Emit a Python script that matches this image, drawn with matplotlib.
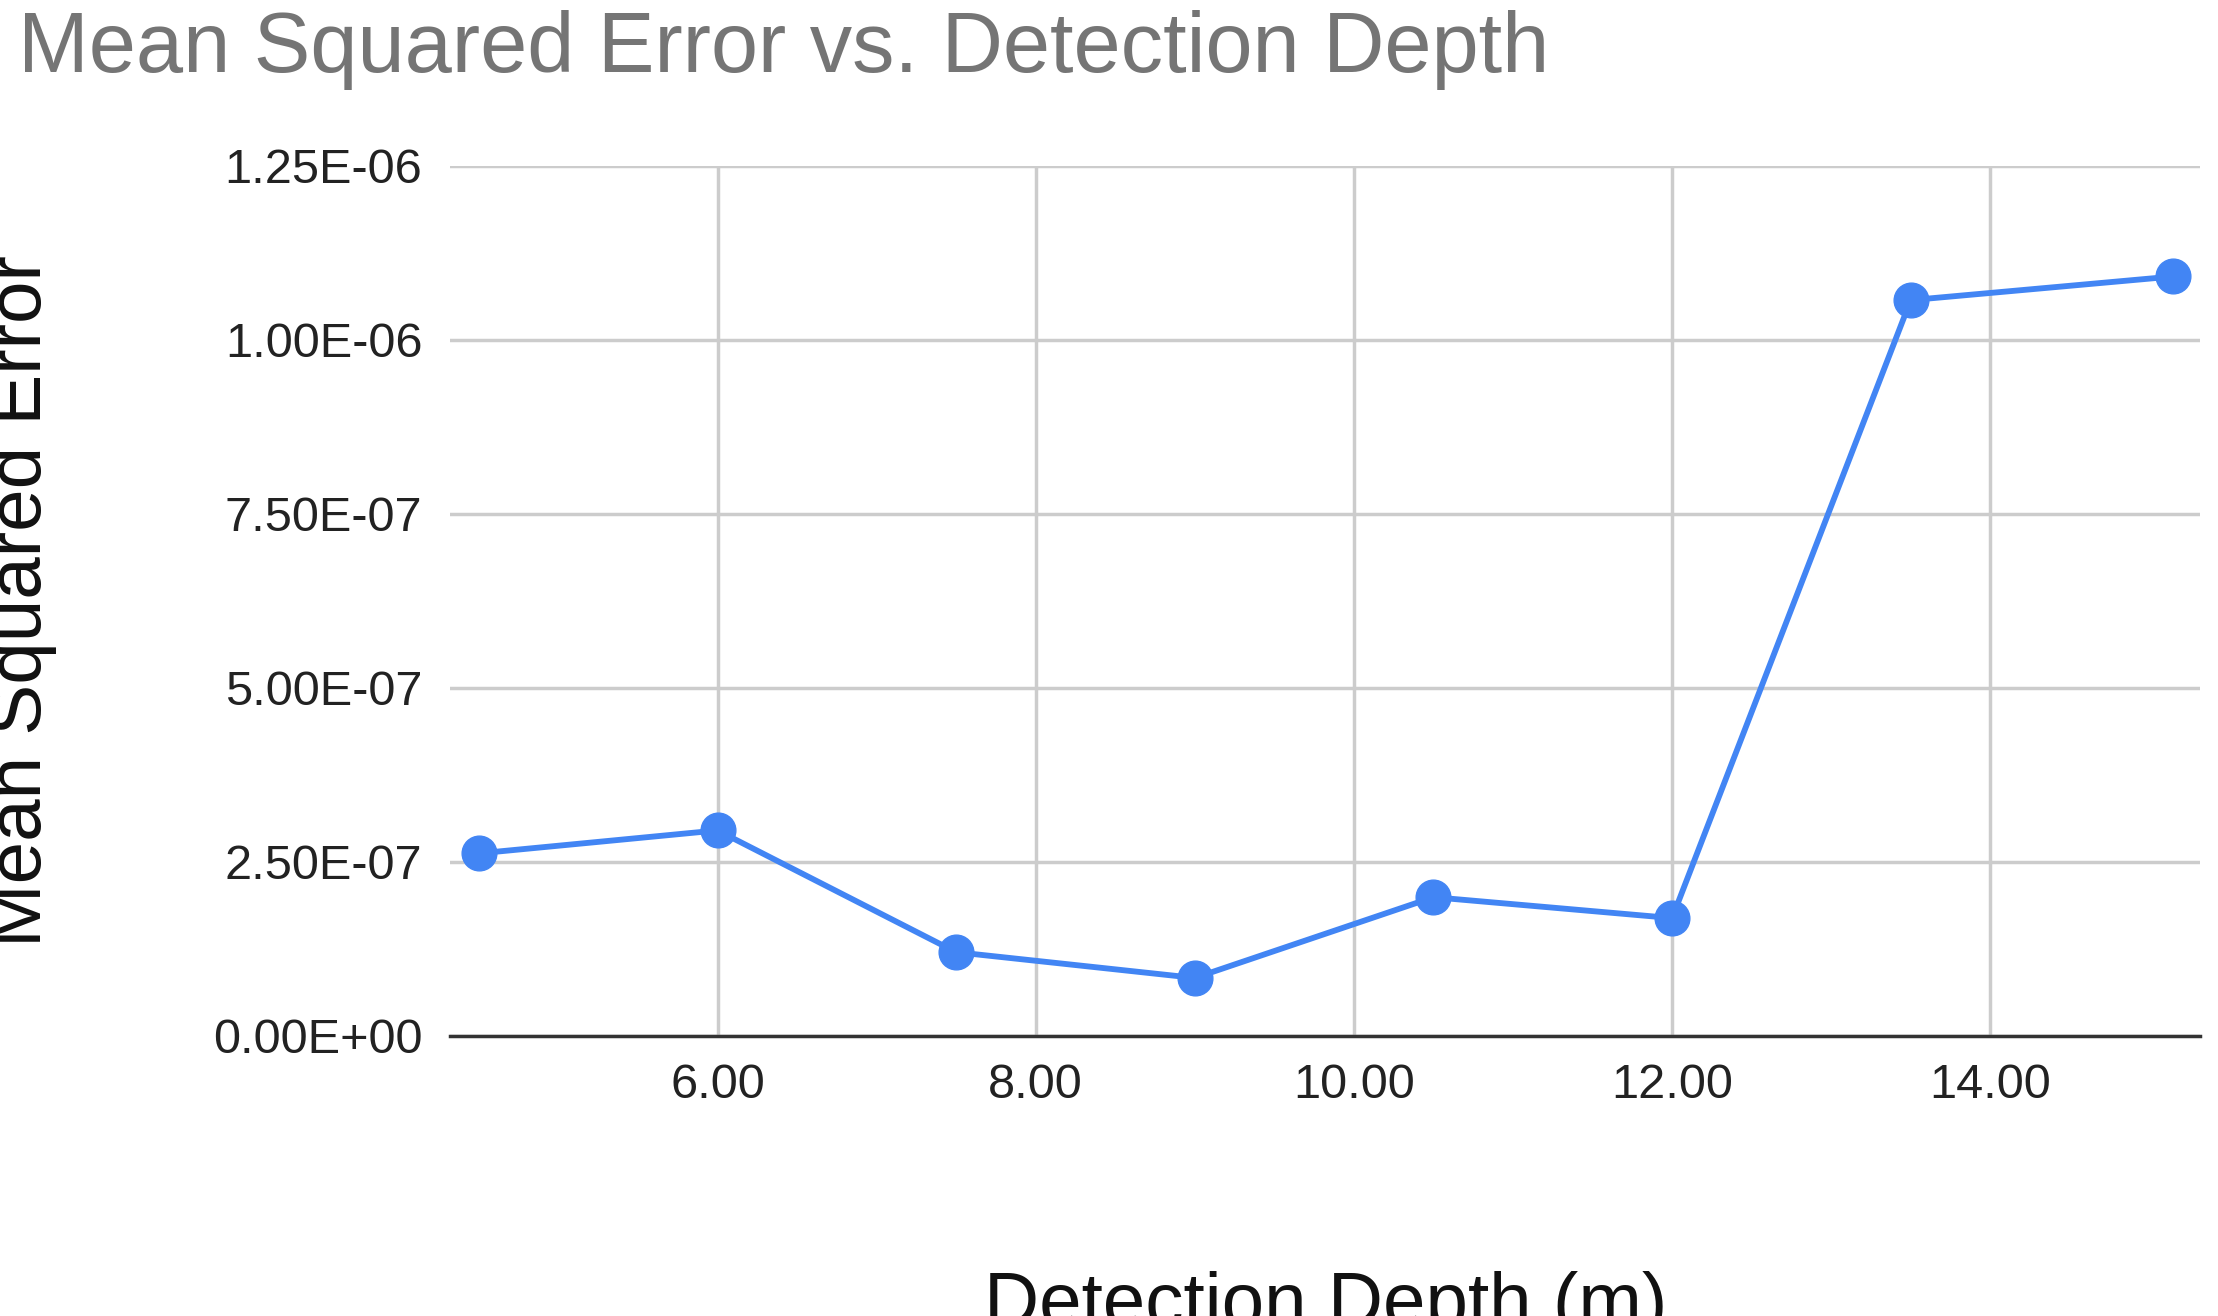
import matplotlib
matplotlib.use("Agg")
import matplotlib.pyplot as plt
from matplotlib.ticker import FuncFormatter

depth = [4.5, 6.0, 7.5, 9.0, 10.5, 12.0, 13.5, 15.15]
mse = [2.62e-7, 2.95e-7, 1.20e-7, 0.83e-7, 1.99e-7, 1.69e-7, 1.057e-6, 1.091e-6]
xticks = [6, 8, 10, 12, 14]
yticks = [0, 2.5e-7, 5e-7, 7.5e-7, 1e-6, 1.25e-6]

plt.rcParams['font.family'] = ['Liberation Sans', 'DejaVu Sans']
fig = plt.figure(figsize=(22.18, 13.16), dpi=100)
ax = fig.add_axes([0.203, 0.213, 0.789, 0.661])
ax.plot(depth, mse, color='#4285F4', lw=4.2, marker='o', ms=25, zorder=3, clip_on=False)
ax.set_xlim(4.32, 15.32)
ax.set_ylim(0, 1.25e-6)
ax.set_xticks(xticks)
ax.set_yticks(yticks)
ax.xaxis.set_major_formatter(FuncFormatter(lambda v, p: f"{v:.2f}"))
ax.yaxis.set_major_formatter(FuncFormatter(lambda v, p: f"{v:.2E}"))
ax.grid(True, color='#cccccc', lw=2.5)
for s in ['top', 'right', 'left']:
    ax.spines[s].set_visible(False)
ax.spines['bottom'].set_color('#333333')
ax.spines['bottom'].set_linewidth(2.5)
ax.tick_params(length=0, labelsize=35, colors='#222222', pad=20)
ax.set_xlabel('Detection Depth (m)', fontsize=55, color='#111111')
ax.xaxis.set_label_coords(0.5, -0.27)
ax.set_ylabel('Mean Squared Error', fontsize=55, color='#111111')
ax.yaxis.set_label_coords(-0.225, 0.5)
fig.text(0.008, 0.962, 'Mean Squared Error vs. Detection Depth', fontsize=61,
         color='#757575', va='center', ha='left')
fig.savefig('out.png', dpi=100)
